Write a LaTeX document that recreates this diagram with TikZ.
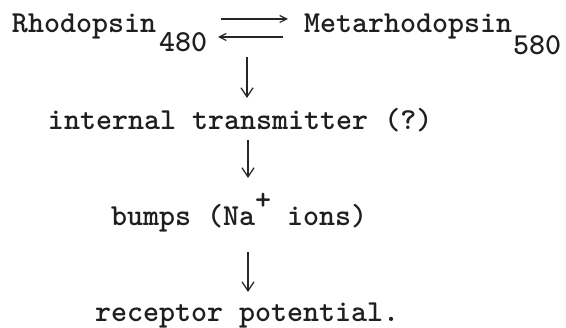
\documentclass[tikz,border=0pt]{standalone}
\usetikzlibrary{arrows.meta}
\begin{document}
\begin{tikzpicture}[x=1pt,y=1pt,
  txt/.style={anchor=base west,inner sep=0pt,outer sep=0pt,font=\fontsize{30.5}{36}\ttfamily\bfseries,text=black!88},
  downarr/.style={line width=1.3pt,draw=black!85,-{Straight Barb[length=9pt,width=12pt,line width=1.3pt]}},
  eqarr/.style={line width=1.3pt,draw=black!85,-{Straight Barb[length=7pt,width=7pt,line width=1.2pt]}}]
\useasboundingbox (0,0) rectangle (566,-328);
\node[txt] (rho) at (12,-33) {Rhodopsin};
\node[txt] (rhosub) at (159,-52) {480};
\node[txt] (meta) at (304,-33) {Metarhodopsin};
\node[txt] (metasub) at (513,-55) {580};
\node[txt] (trans) at (48,-130) {internal transmitter (?)};
\node[txt] (bumps) at (111,-226) {bumps (Na\raisebox{16pt}{+} ions)};
\node[txt] (rec) at (95,-322) {receptor potential.};
\coordinate (e1s) at (221,-19);
\coordinate (e1e) at (288,-19);
\coordinate (e2s) at (283,-37);
\coordinate (e2e) at (218,-37);
\coordinate (d1s) at (247,-57);
\coordinate (d1e) at (247,-98);
\coordinate (d2s) at (248,-140);
\coordinate (d2e) at (248,-178);
\coordinate (d3s) at (248,-252);
\coordinate (d3e) at (248,-292);
\draw[eqarr] (e1s) -- (e1e);
\draw[eqarr] (e2s) -- (e2e);
\draw[downarr] (d1s) -- (d1e);
\draw[downarr] (d2s) -- (d2e);
\draw[downarr] (d3s) -- (d3e);
\end{tikzpicture}
\end{document}
